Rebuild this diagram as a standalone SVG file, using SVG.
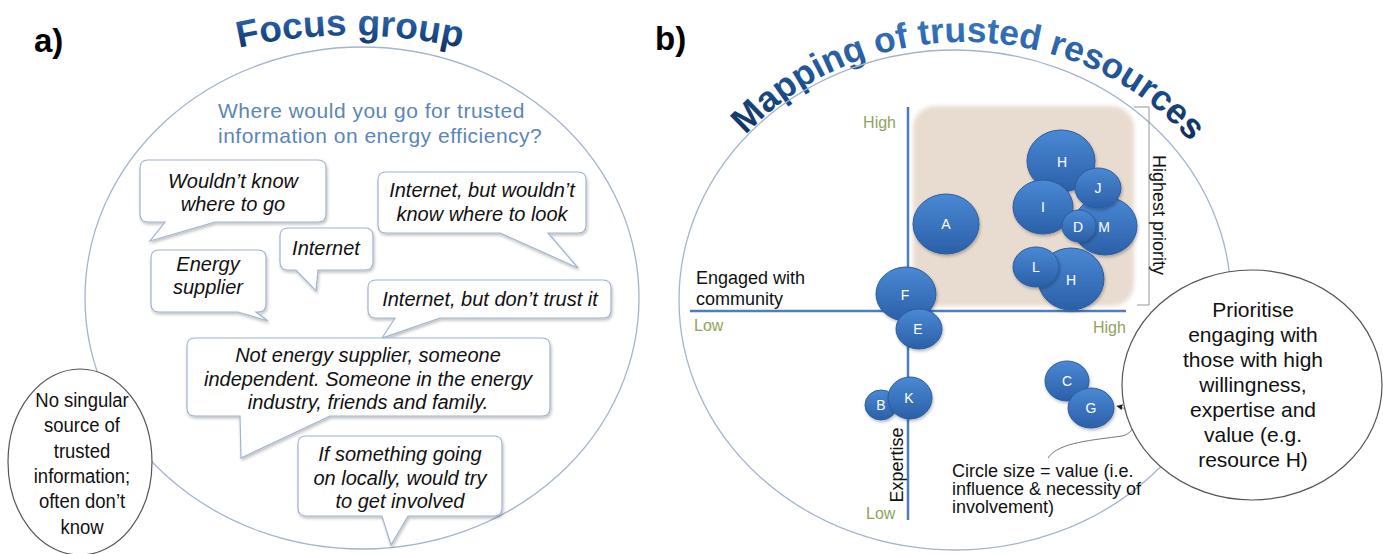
<svg xmlns="http://www.w3.org/2000/svg" width="1383" height="554" viewBox="0 0 1383 554">
<defs>
<linearGradient id="tg" x1="0" y1="0" x2="0" y2="1">
 <stop offset="0" stop-color="#3C7CC6"/>
 <stop offset="0.55" stop-color="#1D4E8E"/>
 <stop offset="1" stop-color="#0D2950"/>
</linearGradient>
<linearGradient id="bg" x1="0" y1="0" x2="0" y2="1">
 <stop offset="0" stop-color="#4A89D4"/>
 <stop offset="1" stop-color="#2B5FA8"/>
</linearGradient>
<filter id="sh" x="-15%" y="-15%" width="140%" height="150%">
 <feDropShadow dx="1" dy="2" stdDeviation="1.5" flood-color="#000" flood-opacity="0.25"/>
</filter>
<filter id="soft" x="-5%" y="-5%" width="110%" height="110%"><feGaussianBlur stdDeviation="2"/></filter>
<marker id="ah" viewBox="0 0 10 10" refX="9" refY="5" markerWidth="6" markerHeight="6" orient="auto"><path d="M0 0 L10 5 L0 10 z" fill="#222"/></marker>
<path id="arcA" d="M 215 54 A 500 500 0 0 1 485 54"/>
<path id="arcB" d="M 691 228.9 A 285 258 0 0 1 1241.5 237.6"/>
</defs>
<style>
.lbl{font-family:"Liberation Sans",Arial,sans-serif;font-weight:bold;font-size:33px;fill:#000}
.title{font-family:"Liberation Sans",Arial,sans-serif;font-weight:bold;fill:url(#tg)}
.big{fill:none;stroke:#A3B5CB;stroke-width:1.3}
.bub{fill:#fff;stroke:#9FB4D0;stroke-width:1.2;filter:url(#sh)}
.bt{font-family:"Liberation Sans",Arial,sans-serif;font-style:italic;font-size:20px;fill:#111;text-anchor:middle}
.q{font-family:"Liberation Sans",Arial,sans-serif;font-size:21px;letter-spacing:0.5px;fill:#5A86BA}
.call{fill:#fff;stroke:#555;stroke-width:1.2}
.ct{font-family:"Liberation Sans",Arial,sans-serif;font-size:21px;fill:#111;text-anchor:middle}
.ax{stroke:#4F7EB8;stroke-width:2.5}
.al{font-family:"Liberation Sans",Arial,sans-serif;font-size:16px;fill:#8FA35A}
.t{font-family:"Liberation Sans",Arial,sans-serif;font-size:18px;fill:#111}
.res{fill:url(#bg);stroke:#2C5C9E;stroke-width:1;filter:url(#sh)}
.rl{font-family:"Liberation Sans",Arial,sans-serif;font-size:14px;fill:#fff;text-anchor:middle}
</style>
<rect width="1383" height="554" fill="#fff"/>

<!-- panel a -->
<g id="panel-a">
 <text class="lbl" x="34" y="52">a)</text>
 <text class="title" font-size="37"><textPath href="#arcA" startOffset="50%" text-anchor="middle">Focus group</textPath></text>
 <ellipse class="big" cx="362" cy="298" rx="277" ry="251"/>
 <text class="q" x="218" y="118">Where would you go for trusted</text>
 <text class="q" x="218" y="143">information on energy efficiency?</text>
</g>

<g id="bubble-1">
 <path class="bub" d="M148 160 H318 Q326 160 326 168 V214 Q326 222 318 222 H215 L150 241 L165 222 H148 Q140 222 140 214 V168 Q140 160 148 160 Z"/>
 <text class="bt" x="233" y="188">Wouldn’t know</text>
 <text class="bt" x="233" y="211">where to go</text>
</g>
<g id="bubble-2">
 <path class="bub" d="M386 172 H578 Q586 172 586 180 V225 Q586 233 578 233 H548 L578 268 L500 233 H386 Q378 233 378 225 V180 Q378 172 386 172 Z"/>
 <text class="bt" x="482" y="197">Internet, but wouldn’t</text>
 <text class="bt" x="482" y="221">know where to look</text>
</g>
<g id="bubble-3">
 <path class="bub" d="M288 228 H365 Q373 228 373 236 V262 Q373 270 365 270 H318 L316 291 L296 270 H288 Q280 270 280 262 V236 Q280 228 288 228 Z"/>
 <text class="bt" x="326" y="255">Internet</text>
</g>
<g id="bubble-4">
 <path class="bub" d="M159 250 H258 Q266 250 266 258 V304 Q266 312 258 312 H256 L268 321 L238 312 H159 Q151 312 151 304 V258 Q151 250 159 250 Z"/>
 <text class="bt" x="208" y="271">Energy</text>
 <text class="bt" x="208" y="294">supplier</text>
</g>
<g id="bubble-5">
 <path class="bub" d="M376 280 H603 Q611 280 611 288 V310 Q611 318 603 318 H440 L382 338 L395 318 H376 Q368 318 368 310 V288 Q368 280 376 280 Z"/>
 <text class="bt" x="490" y="306">Internet, but don’t trust it</text>
</g>
<g id="bubble-6">
 <path class="bub" d="M195 338 H542 Q550 338 550 346 V408 Q550 416 542 416 H330 L241 458 L240 416 H195 Q187 416 187 408 V346 Q187 338 195 338 Z"/>
 <text class="bt" x="368" y="362">Not energy supplier, someone</text>
 <text class="bt" x="368" y="386">independent. Someone in the energy</text>
 <text class="bt" x="368" y="409">industry, friends and family.</text>
</g>
<g id="bubble-7">
 <path class="bub" d="M306 436 H494 Q502 436 502 444 V508 Q502 516 494 516 H408 L391 545 L382 516 H306 Q298 516 298 508 V444 Q298 436 306 436 Z"/>
 <text class="bt" x="400" y="461">If something going</text>
 <text class="bt" x="400" y="485">on locally, would try</text>
 <text class="bt" x="400" y="508">to get involved</text>
</g>

<g id="callout-a">
 <ellipse class="call" cx="80" cy="462" rx="72" ry="93"/>
 <g transform="translate(82 0) scale(0.88 1)">
  <text class="ct" x="0" y="407">No singular</text>
  <text class="ct" x="0" y="432">source of</text>
  <text class="ct" x="0" y="458">trusted</text>
  <text class="ct" x="0" y="483">information;</text>
  <text class="ct" x="0" y="508">often don’t</text>
  <text class="ct" x="0" y="534">know</text>
 </g>
</g>

<!-- panel b -->
<g id="panel-b">
 <text class="lbl" x="655" y="50">b)</text>
 <text class="title" font-size="35.5"><textPath href="#arcB" startOffset="50%" text-anchor="middle">Mapping of trusted resources</textPath></text>
 <ellipse class="big" cx="955" cy="300" rx="276" ry="250"/>
 <rect x="913" y="106" width="221" height="200" rx="22" fill="#E8DBCF" filter="url(#soft)"/>
 <path d="M1134 107 H1149 V305 H1137" fill="none" stroke="#8A8A8A" stroke-width="0.9"/>
</g>

<g id="axes">
 <line class="ax" x1="908" y1="107" x2="908" y2="520"/>
 <line class="ax" x1="690" y1="311" x2="1126" y2="311"/>
 <text class="al" x="896" y="128" text-anchor="end">High</text>
 <text class="al" x="694" y="331">Low</text>
 <text class="al" x="1093" y="333">High</text>
 <text class="al" x="866" y="519">Low</text>
 <text class="t" x="696" y="284">Engaged with</text>
 <text class="t" x="696" y="305">community</text>
 <text class="t" transform="translate(903 465) rotate(-90)" text-anchor="middle" font-size="19">Expertise</text>
 <text class="t" transform="translate(1153 215) rotate(90)" text-anchor="middle">Highest priority</text>
</g>

<g id="res-H1"><ellipse class="res" cx="1061" cy="161" rx="34" ry="31"/><text class="rl" x="1062" y="167">H</text></g>
<g id="res-M"><ellipse class="res" cx="1105" cy="226" rx="32" ry="29"/><text class="rl" x="1104" y="232">M</text></g>
<g id="res-J"><ellipse class="res" cx="1098" cy="188" rx="23" ry="20"/><text class="rl" x="1098" y="193">J</text></g>
<g id="res-I"><ellipse class="res" cx="1043" cy="207" rx="30" ry="27"/><text class="rl" x="1043" y="212">I</text></g>
<g id="res-D"><ellipse class="res" cx="1079" cy="226" rx="17" ry="16"/><text class="rl" x="1078" y="232">D</text></g>
<g id="res-A"><ellipse class="res" cx="946" cy="224" rx="33" ry="30"/><text class="rl" x="946" y="229">A</text></g>
<g id="res-H2"><ellipse class="res" cx="1071" cy="279" rx="33" ry="31"/><text class="rl" x="1071" y="285">H</text></g>
<g id="res-L"><ellipse class="res" cx="1036" cy="267" rx="23" ry="20"/><text class="rl" x="1036" y="272">L</text></g>
<g id="res-F"><ellipse class="res" cx="906" cy="294" rx="30" ry="27"/><text class="rl" x="905" y="300">F</text></g>
<g id="res-E"><ellipse class="res" cx="919" cy="329" rx="23" ry="20"/><text class="rl" x="918" y="334">E</text></g>
<g id="res-B"><ellipse class="res" cx="881" cy="405" rx="16" ry="15"/><text class="rl" x="881" y="410">B</text></g>
<g id="res-K"><ellipse class="res" cx="910" cy="398" rx="22" ry="21"/><text class="rl" x="909" y="403">K</text></g>
<g id="res-C"><ellipse class="res" cx="1067" cy="381" rx="22" ry="20"/><text class="rl" x="1067" y="386">C</text></g>
<g id="res-G"><ellipse class="res" cx="1091" cy="408" rx="23" ry="20"/><text class="rl" x="1091" y="413">G</text></g>

<g id="connectors">
 <path d="M1048 458 C1058 442 1095 440 1122 436 C1140 432 1136 410 1117 406" fill="none" stroke="#777" stroke-width="1" marker-end="url(#ah)"/>
</g>

<g id="legend">
 <text class="t" font-size="16" x="952" y="477">Circle size = value (i.e.</text>
 <text class="t" font-size="16" x="952" y="495">influence &amp; necessity of</text>
 <text class="t" font-size="16" x="952" y="513">involvement)</text>
</g>

<g id="callout-b">
 <ellipse class="call" cx="1252" cy="385" rx="130" ry="115"/>
 <text class="ct" font-size="22" x="1253" y="317">Prioritise</text>
 <text class="ct" font-size="22" x="1253" y="342">engaging with</text>
 <text class="ct" font-size="22" x="1253" y="367">those with high</text>
 <text class="ct" font-size="22" x="1253" y="392">willingness,</text>
 <text class="ct" font-size="22" x="1253" y="417">expertise and</text>
 <text class="ct" font-size="22" x="1253" y="442">value (e.g.</text>
 <text class="ct" font-size="22" x="1253" y="467">resource H)</text>
</g>
</svg>
